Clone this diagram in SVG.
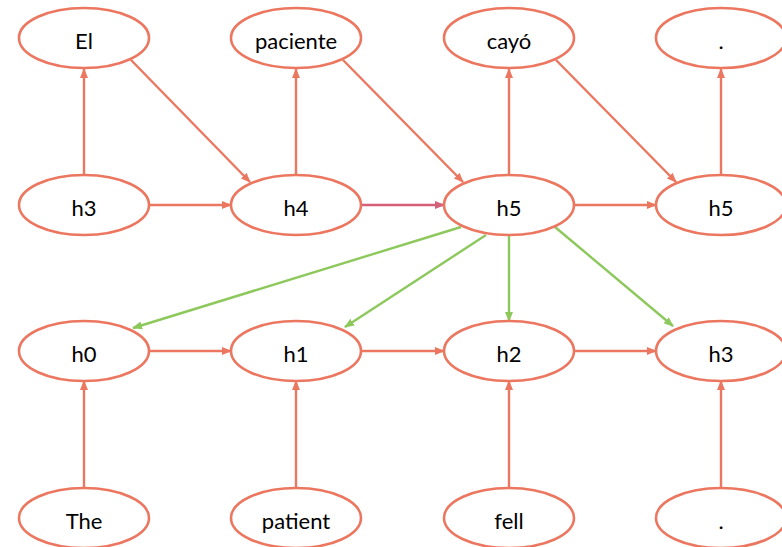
<svg xmlns="http://www.w3.org/2000/svg" width="782" height="547" viewBox="0 0 782 547">
<style>
.n ellipse{fill:#fff;stroke:#EC7760;stroke-width:2.6}
.n text{font-family:Lato,"Open Sans",sans-serif;font-size:22px;fill:#000;text-anchor:middle;dominant-baseline:central}
.o{stroke:#EC7760;stroke-width:2.4;fill:none;marker-end:url(#ao)}
.g{stroke:#8DC85C;stroke-width:2.4;fill:none;marker-end:url(#ag)}
.r{stroke:#D4607A;stroke-width:2.4;fill:none;marker-end:url(#ar)}
</style>
<defs>
<marker id="ao" markerUnits="userSpaceOnUse" markerWidth="10" markerHeight="10" viewBox="0 0 10 10" refX="9" refY="5" orient="auto"><path d="M0,1 L10,5 L0,9 z" fill="#EC7760"/></marker>
<marker id="ag" markerUnits="userSpaceOnUse" markerWidth="10" markerHeight="10" viewBox="0 0 10 10" refX="9" refY="5" orient="auto"><path d="M0,1 L10,5 L0,9 z" fill="#8DC85C"/></marker>
<marker id="ar" markerUnits="userSpaceOnUse" markerWidth="10" markerHeight="10" viewBox="0 0 10 10" refX="9" refY="5" orient="auto"><path d="M0,1 L10,5 L0,9 z" fill="#D4607A"/></marker>
</defs>
<rect width="782" height="547" fill="#fff"/>
<g id="connectors">
<line class="o" x1="84" y1="175" x2="84" y2="69"/>
<line class="o" x1="296" y1="175" x2="296" y2="69"/>
<line class="o" x1="509" y1="175" x2="509" y2="69"/>
<line class="o" x1="721" y1="175" x2="721" y2="69"/>
<line class="o" x1="131" y1="60" x2="250" y2="182"/>
<line class="o" x1="343" y1="60" x2="463" y2="182"/>
<line class="o" x1="556" y1="60" x2="676" y2="182"/>
<line class="o" x1="150" y1="205" x2="231" y2="205"/>
<line class="r" x1="362" y1="205" x2="444" y2="205"/>
<line class="o" x1="574" y1="205" x2="656" y2="205"/>
<line class="g" x1="461" y1="227" x2="133" y2="328"/>
<line class="g" x1="486" y1="235" x2="345" y2="327"/>
<line class="g" x1="509" y1="235" x2="509" y2="321"/>
<line class="g" x1="555" y1="227" x2="673" y2="326"/>
<line class="o" x1="150" y1="351" x2="231" y2="351"/>
<line class="o" x1="362" y1="351" x2="444" y2="351"/>
<line class="o" x1="574" y1="351" x2="656" y2="351"/>
<line class="o" x1="84" y1="487" x2="84" y2="381"/>
<line class="o" x1="296" y1="487" x2="296" y2="381"/>
<line class="o" x1="509" y1="487" x2="509" y2="381"/>
<line class="o" x1="721" y1="487" x2="721" y2="381"/>
</g>
<g id="n-el" class="n"><ellipse cx="84" cy="38" rx="65" ry="30"/><text x="84" y="40">El</text></g>
<g id="n-paciente" class="n"><ellipse cx="296" cy="38" rx="65" ry="30"/><text x="296" y="40">paciente</text></g>
<g id="n-cayo" class="n"><ellipse cx="509" cy="38" rx="65" ry="30"/><text x="509" y="40">cayó</text></g>
<g id="n-dot-top" class="n"><ellipse cx="721" cy="38" rx="65" ry="30"/><text x="721" y="40">.</text></g>
<g id="n-h3-top" class="n"><ellipse cx="84" cy="205" rx="65" ry="30"/><text x="84" y="207">h3</text></g>
<g id="n-h4" class="n"><ellipse cx="296" cy="205" rx="65" ry="30"/><text x="296" y="207">h4</text></g>
<g id="n-h5a" class="n"><ellipse cx="509" cy="205" rx="65" ry="30"/><text x="509" y="207">h5</text></g>
<g id="n-h5b" class="n"><ellipse cx="721" cy="205" rx="65" ry="30"/><text x="721" y="207">h5</text></g>
<g id="n-h0" class="n"><ellipse cx="84" cy="351" rx="65" ry="30"/><text x="84" y="353">h0</text></g>
<g id="n-h1" class="n"><ellipse cx="296" cy="351" rx="65" ry="30"/><text x="296" y="353">h1</text></g>
<g id="n-h2" class="n"><ellipse cx="509" cy="351" rx="65" ry="30"/><text x="509" y="353">h2</text></g>
<g id="n-h3-bot" class="n"><ellipse cx="721" cy="351" rx="65" ry="30"/><text x="721" y="353">h3</text></g>
<g id="n-the" class="n"><ellipse cx="84" cy="518" rx="65" ry="30"/><text x="84" y="520">The</text></g>
<g id="n-patient" class="n"><ellipse cx="296" cy="518" rx="65" ry="30"/><text x="296" y="520">patient</text></g>
<g id="n-fell" class="n"><ellipse cx="509" cy="518" rx="65" ry="30"/><text x="509" y="520">fell</text></g>
<g id="n-dot-bot" class="n"><ellipse cx="721" cy="518" rx="65" ry="30"/><text x="721" y="520">.</text></g>
</svg>
